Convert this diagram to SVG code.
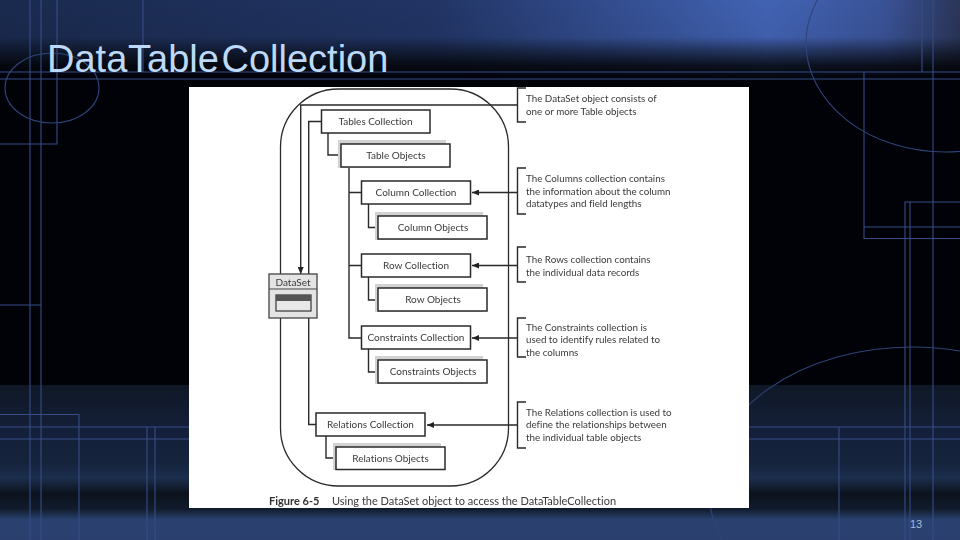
<svg xmlns="http://www.w3.org/2000/svg" width="960" height="540" viewBox="0 0 960 540">
<defs>
<linearGradient id="topH" x1="0" y1="0" x2="1" y2="0"><stop offset="0" stop-color="#1a2a4e"/><stop offset="0.45" stop-color="#213464"/><stop offset="0.8" stop-color="#4263b4"/><stop offset="0.92" stop-color="#3a5398"/><stop offset="1" stop-color="#2a3558"/></linearGradient>
<linearGradient id="topFade" x1="0" y1="0" x2="0" y2="1"><stop offset="0" stop-color="#000" stop-opacity="0"/><stop offset="0.45" stop-color="#000" stop-opacity="0.05"/><stop offset="0.62" stop-color="#000" stop-opacity="0.45"/><stop offset="0.8" stop-color="#000" stop-opacity="0.82"/><stop offset="1" stop-color="#010208" stop-opacity="1"/></linearGradient>
<linearGradient id="bottom" x1="0" y1="0" x2="0" y2="1"><stop offset="0" stop-color="#101826"/><stop offset="0.3" stop-color="#14203a"/><stop offset="0.5" stop-color="#15233c"/><stop offset="0.6" stop-color="#1c2e4e"/><stop offset="0.7" stop-color="#0b121c"/><stop offset="0.8" stop-color="#111b2c"/><stop offset="0.87" stop-color="#2a4270"/><stop offset="1" stop-color="#2a3f6e"/></linearGradient>
<marker id="arrow" markerWidth="8" markerHeight="6" refX="7" refY="3" orient="auto" markerUnits="userSpaceOnUse"><path d="M0,0L7,3L0,6z" fill="#222"/></marker>
<filter id="soft" x="-2%" y="-2%" width="104%" height="104%"><feGaussianBlur stdDeviation="0.4"/></filter>
</defs>
<style>
.bg{fill:none;stroke:#354c88;stroke-width:1.1}
.el{fill:none;stroke:#2f4478;stroke-width:1.1}
.bx{fill:#fff;stroke:#2a2a2a;stroke-width:1.5}
.sh{fill:#d2d2d2}
.ln{fill:none;stroke:#2a2a2a;stroke-width:1.4}
text{font-family:Lato,"Open Sans","Liberation Sans",sans-serif;font-variant-ligatures:none}
.t{font-size:10px;fill:#3a3a3a;text-anchor:middle}
.n{font-size:9.800px;fill:#3a3a3a}
</style>
<g id="background">
<rect width="960" height="540" fill="#010208"/>
<rect width="960" height="82" fill="url(#topH)"/>
<rect width="960" height="82" fill="url(#topFade)"/>
<rect y="385" width="960" height="155" fill="url(#bottom)"/>
<path class="bg" d="M0,72H960M0,79H960M0,427H960M0,439H960M30,0V540M41,0V540M57,0V144H0M143,0V72M0,305H41M0,414.500H79V540M147,427V540M155,427V540M864,72V238.500H960M864,227H960M922,0V72M933,0V540M905,540V202H960M910,202V540M839,427V540"/>
<ellipse class="el" cx="52" cy="88" rx="47" ry="35"/>
<ellipse class="el" cx="945" cy="43" rx="139" ry="109"/>
<ellipse class="el" cx="912" cy="490" rx="203" ry="143"/>
</g>
<text id="title" y="72" font-size="38" fill="#bcd9f7" style="font-family:'Liberation Sans',Arial,sans-serif"><tspan x="47">Data</tspan><tspan x="128">Table</tspan><tspan x="221.500">Collection</tspan></text>
<text id="page-number" x="910" y="528" font-size="11" fill="#a8bcd8" style="font-family:'Liberation Sans',Arial,sans-serif">13</text>
<rect id="panel" x="189" y="87" width="560" height="421" fill="#fff"/>
<g filter="url(#soft)">
<rect id="outline" x="280.500" y="89" width="228" height="397" rx="58" ry="58" fill="none" stroke="#2a2a2a" stroke-width="1.300"/>
<g id="connectors">
<path class="ln" d="M517.500,105H300.700V274" marker-end="url(#arrow)"/>
<path class="ln" d="M321.500,121.500H308.700V274M308.700,318V424.500H316"/>
<path class="ln" d="M328,133V155H341"/>
<path class="ln" d="M349,167V338H361.500M349,192.500H361.500M349,265.500H361.500"/>
<path class="ln" d="M368.500,204V227.500H378M368.500,277V300H378M368.500,349V372H378"/>
<path class="ln" d="M326,436V458H336"/>
<path class="ln" d="M517.500,192.500H472" marker-end="url(#arrow)"/>
<path class="ln" d="M517.500,265.500H472" marker-end="url(#arrow)"/>
<path class="ln" d="M517.500,338H472" marker-end="url(#arrow)"/>
<path class="ln" d="M517.500,425H427" marker-end="url(#arrow)"/>
<path class="ln" d="M526,88H517.500V122H526M526,168H517.500V214H526M526,247H517.500V282H526M526,318H517.500V357H526M526,402H517.500V448H526"/>
</g>
<g id="dataset">
<rect x="269" y="274" width="48" height="44" fill="#e4e4e4" stroke="#444" stroke-width="1.300"/>
<path d="M269,289H317" stroke="#444" stroke-width="1.200"/>
<rect x="276" y="295" width="35" height="16" fill="#e8e8e8" stroke="#333" stroke-width="1.200"/>
<rect x="276" y="295" width="35" height="6" fill="#555"/>
<text class="t" x="293" y="285.500">DataSet</text>
</g>
<g id="tables-collection"><rect class="bx" x="321.500" y="110" width="108.500" height="23"/><text class="t" x="375.500" y="125">Tables Collection</text></g>
<g id="table-objects"><rect class="sh" x="338" y="140" width="108" height="28"/><rect class="bx" x="341" y="144" width="109" height="23"/><text class="t" x="396" y="159">Table Objects</text></g>
<g id="column-collection"><rect class="bx" x="361.500" y="181" width="109" height="23"/><text class="t" x="416" y="196">Column Collection</text></g>
<g id="column-objects"><rect class="sh" x="375" y="212" width="108" height="28"/><rect class="bx" x="378" y="216" width="109" height="23"/><text class="t" x="433" y="231">Column Objects</text></g>
<g id="row-collection"><rect class="bx" x="361.500" y="254" width="109" height="23"/><text class="t" x="416" y="269">Row Collection</text></g>
<g id="row-objects"><rect class="sh" x="375" y="284" width="108" height="28"/><rect class="bx" x="378" y="288" width="109" height="23"/><text class="t" x="433" y="303">Row Objects</text></g>
<g id="constraints-collection"><rect class="bx" x="361.500" y="326" width="109" height="23"/><text class="t" x="416" y="341">Constraints Collection</text></g>
<g id="constraints-objects"><rect class="sh" x="375" y="356" width="108" height="28"/><rect class="bx" x="378" y="360" width="109" height="23"/><text class="t" x="433" y="375">Constraints Objects</text></g>
<g id="relations-collection"><rect class="bx" x="316" y="413" width="109" height="23"/><text class="t" x="370.500" y="428">Relations Collection</text></g>
<g id="relations-objects"><rect class="sh" x="333" y="443" width="108" height="27"/><rect class="bx" x="336" y="447" width="109" height="22.500"/><text class="t" x="390.500" y="462">Relations Objects</text></g>
<g id="notes">
<text class="n" x="526" y="102">The DataSet object consists of</text>
<text class="n" x="526" y="114.500">one or more Table objects</text>
<text class="n" x="526" y="182">The Columns collection contains</text>
<text class="n" x="526" y="194.500">the information about the column</text>
<text class="n" x="526" y="207">datatypes and field lengths</text>
<text class="n" x="526" y="263">The Rows collection contains</text>
<text class="n" x="526" y="275.500">the individual data records</text>
<text class="n" x="526" y="330.500">The Constraints collection is</text>
<text class="n" x="526" y="343">used to identify rules related to</text>
<text class="n" x="526" y="355.500">the columns</text>
<text class="n" x="526" y="415.500">The Relations collection is used to</text>
<text class="n" x="526" y="428">define the relationships between</text>
<text class="n" x="526" y="440.500">the individual table objects</text>
</g>
<g id="caption"><text x="269" y="505" font-size="11" font-weight="700" fill="#333">Figure 6-5</text><text x="332" y="505" font-size="11" fill="#3a3a3a">Using the DataSet object to access the DataTableCollection</text></g>
</g>
</svg>
